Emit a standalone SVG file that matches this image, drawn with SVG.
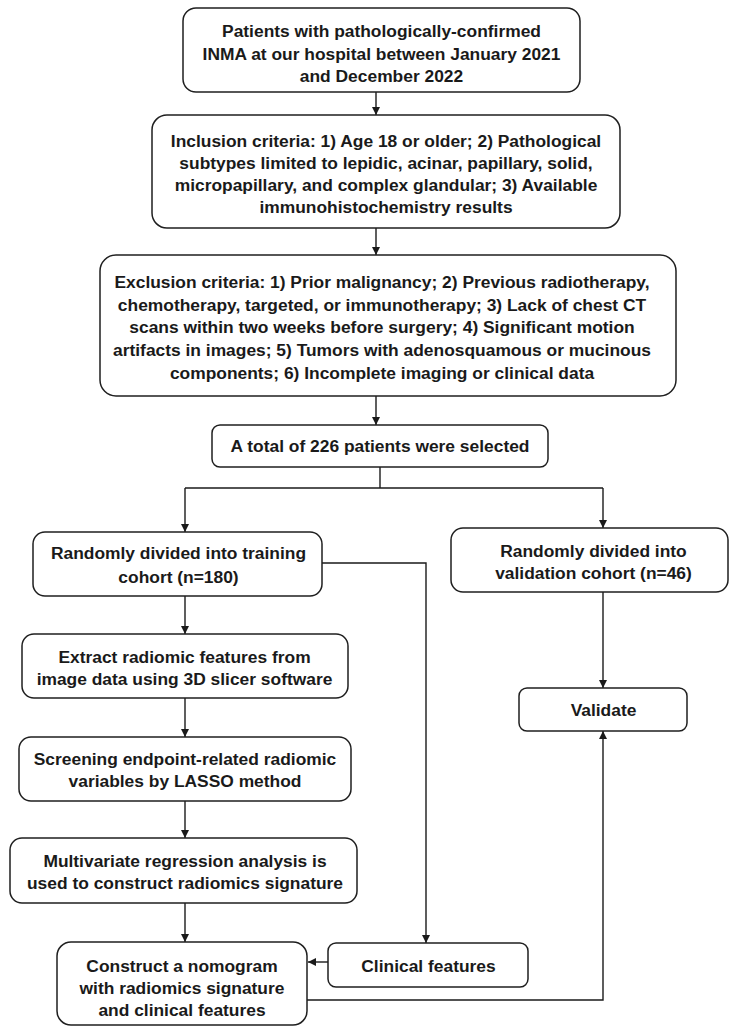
<svg xmlns="http://www.w3.org/2000/svg" width="729" height="1027" viewBox="0 0 729 1027">
<defs>
<marker id="ah" viewBox="0 0 10 10" refX="10" refY="5" markerWidth="8" markerHeight="8" markerUnits="userSpaceOnUse" orient="auto">
<path d="M0,0 L10,5 L0,10 Z" fill="#1a1a1a"/>
</marker>
</defs>
<style>
.box{fill:#fff;stroke:#1f1f1f;stroke-width:1.5}
.t{font-family:"Liberation Sans",Arial,sans-serif;font-weight:bold;font-size:17.4px;fill:#1a1a1a;text-anchor:middle}
.c{fill:none;stroke:#1a1a1a;stroke-width:1.4}
</style>
<rect width="729" height="1027" fill="#fff"/>
<g id="connectors">
<path class="c" d="M376,92 V115" marker-end="url(#ah)"/>
<path class="c" d="M376,228 V255" marker-end="url(#ah)"/>
<path class="c" d="M376,396 V425" marker-end="url(#ah)"/>
<path class="c" d="M380,467 V488"/>
<path class="c" d="M185,488 H603"/>
<path class="c" d="M185,488 V532" marker-end="url(#ah)"/>
<path class="c" d="M603,488 V528" marker-end="url(#ah)"/>
<path class="c" d="M185,596 V634" marker-end="url(#ah)"/>
<path class="c" d="M185,698 V737" marker-end="url(#ah)"/>
<path class="c" d="M185,801 V838" marker-end="url(#ah)"/>
<path class="c" d="M185,903 V942" marker-end="url(#ah)"/>
<path class="c" d="M322,563 H426 V943" marker-end="url(#ah)"/>
<path class="c" d="M328,962 H308" marker-end="url(#ah)"/>
<path class="c" d="M603,592 V688" marker-end="url(#ah)"/>
<path class="c" d="M307,1000 H603 V731" marker-end="url(#ah)"/>
</g>
<g id="n1">
<rect class="box" x="183" y="8" width="397" height="84" rx="13"/>
<text class="t"><tspan x="381.5" y="37">Patients with pathologically-confirmed</tspan><tspan x="381.5" y="60">INMA at our hospital between January 2021</tspan><tspan x="381.5" y="82">and December 2022</tspan></text>
</g>
<g id="n2">
<rect class="box" x="152" y="115" width="468" height="113" rx="15"/>
<text class="t"><tspan x="386" y="147">Inclusion criteria: 1) Age 18 or older; 2) Pathological</tspan><tspan x="386" y="169">subtypes limited to lepidic, acinar, papillary, solid,</tspan><tspan x="386" y="191">micropapillary, and complex glandular; 3) Available</tspan><tspan x="386" y="213">immunohistochemistry results</tspan></text>
</g>
<g id="n3">
<rect class="box" x="100" y="255" width="576" height="141" rx="16"/>
<text class="t"><tspan x="382" y="288">Exclusion criteria: 1) Prior malignancy; 2) Previous radiotherapy,</tspan><tspan x="382" y="311">chemotherapy, targeted, or immunotherapy; 3) Lack of chest CT</tspan><tspan x="382" y="333">scans within two weeks before surgery; 4) Significant motion</tspan><tspan x="382" y="356">artifacts in images; 5) Tumors with adenosquamous or mucinous</tspan><tspan x="382" y="379">components; 6) Incomplete imaging or clinical data</tspan></text>
</g>
<g id="n4">
<rect class="box" x="212" y="425" width="336" height="42" rx="8"/>
<text class="t" x="380" y="452">A total of 226 patients were selected</text>
</g>
<g id="n5">
<rect class="box" x="33" y="532" width="289" height="64" rx="12"/>
<text class="t"><tspan x="178.5" y="559">Randomly divided into training</tspan><tspan x="178.5" y="583">cohort (n=180)</tspan></text>
</g>
<g id="n6">
<rect class="box" x="451" y="528" width="277" height="64" rx="12"/>
<text class="t"><tspan x="593.5" y="557">Randomly divided into</tspan><tspan x="593.5" y="579">validation cohort (n=46)</tspan></text>
</g>
<g id="n7">
<rect class="box" x="22" y="634" width="326" height="64" rx="12"/>
<text class="t"><tspan x="184.5" y="663">Extract radiomic features from</tspan><tspan x="184.5" y="685">image data using 3D slicer software</tspan></text>
</g>
<g id="n8">
<rect class="box" x="519" y="688" width="168" height="43" rx="8"/>
<text class="t" x="603.5" y="716">Validate</text>
</g>
<g id="n9">
<rect class="box" x="19" y="737" width="332" height="64" rx="12"/>
<text class="t"><tspan x="185" y="765">Screening endpoint-related radiomic</tspan><tspan x="185" y="787">variables by LASSO method</tspan></text>
</g>
<g id="n10">
<rect class="box" x="10" y="838" width="347" height="65" rx="12"/>
<text class="t"><tspan x="185" y="867">Multivariate regression analysis is</tspan><tspan x="185" y="889">used to construct radiomics signature</tspan></text>
</g>
<g id="n11">
<rect class="box" x="57" y="942" width="250" height="83" rx="14"/>
<text class="t"><tspan x="182" y="972">Construct a nomogram</tspan><tspan x="182" y="994">with radiomics signature</tspan><tspan x="182" y="1016">and clinical features</tspan></text>
</g>
<g id="n12">
<rect class="box" x="328" y="943" width="200" height="44" rx="8"/>
<text class="t" x="428.5" y="972">Clinical features</text>
</g>
</svg>
